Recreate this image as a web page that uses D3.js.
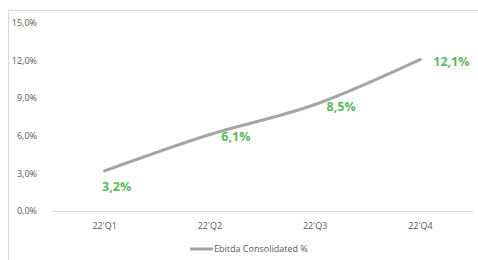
<!DOCTYPE html>
<html><head><meta charset="utf-8">
<script src="https://cdn.jsdelivr.net/npm/d3@7"></script>
<style>body{margin:0;background:#fff;} svg{display:block;}</style>
</head><body>
<svg id="c" width="478" height="260"></svg>
<script>
const categories = ["22'Q1","22'Q2","22'Q3","22'Q4"];
const values = [3.2, 6.1, 8.5, 12.1];
const valueLabels = ["3,2%","6,1%","8,5%","12,1%"];
const yTicks = [0,3,6,9,12,15];
const seriesName = "Ebitda Consolidated %";

const svg = d3.select("#c");
const font = "'Open Sans', Lato, sans-serif";
// outer chart border
svg.append("rect").attr("x",8.5).attr("y",10.5).attr("width",480).attr("height",260)
  .attr("fill","none").attr("stroke","#d9d9d9").attr("stroke-width",1);

const x = d3.scaleBand().domain(categories).range([52,473]);
const y = d3.scaleLinear().domain([0,15]).range([211,23]);

const fmt = d => d.toFixed(1).replace(".",",")+"%";
// y labels
svg.append("g").selectAll("text").data(yTicks).join("text")
  .attr("x",37).attr("y",d=>y(d)).attr("dy","0.35em").attr("text-anchor","end")
  .attr("font-family",font).attr("font-size",9).attr("fill","#595959").text(fmt);

// baseline
svg.append("line").attr("x1",52).attr("x2",473).attr("y1",y(0)+0.5).attr("y2",y(0)+0.5)
  .attr("stroke","#d9d9d9").attr("stroke-width",1);

// x labels
const xAxis = d3.axisBottom(x).tickSize(0).tickPadding(0);
const gx = svg.append("g").attr("transform",`translate(0,${y(0)})`).call(xAxis);
gx.select(".domain").remove();
gx.selectAll("text").attr("dy",0).attr("y",18).attr("font-family",font).attr("font-size",9).attr("fill","#595959");

// line
const line = d3.line().x((d,i)=>x(categories[i])+x.bandwidth()/2).y(d=>y(d)).curve(d3.curveMonotoneX);
svg.append("path").datum(values).attr("d",line).attr("fill","none")
  .attr("stroke","#a5a5a5").attr("stroke-width",3).attr("stroke-linecap","round");

// data labels
const offs = [[12,16],[26,2],[26,2],[31,2]];
svg.append("g").selectAll("text").data(values).join("text")
  .attr("x",(d,i)=>x(categories[i])+x.bandwidth()/2+offs[i][0])
  .attr("y",(d,i)=>y(d)+offs[i][1]).attr("dy","0.35em").attr("text-anchor","middle")
  .attr("font-family",font).attr("font-weight","bold").attr("font-size",12.5).attr("fill","#5cb85c")
  .text((d,i)=>valueLabels[i]);

// legend
svg.append("line").attr("x1",190).attr("x2",213).attr("y1",249).attr("y2",249)
  .attr("stroke","#a5a5a5").attr("stroke-width",3);
svg.append("text").attr("x",214).attr("y",249).attr("dy","0.35em")
  .attr("font-family",font).attr("font-size",9).attr("fill","#595959").text(seriesName);
</script>
</body></html>
